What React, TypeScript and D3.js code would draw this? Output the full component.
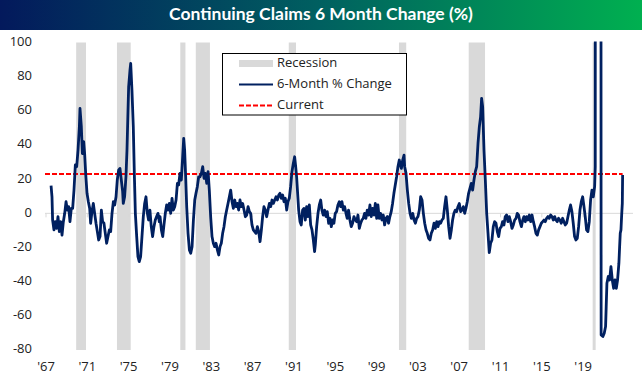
import * as d3 from 'd3'
import { useEffect, useRef } from 'react'

// 6-month % change in continuing claims, [decimal year, value]
const claims1967 = [
  [1967.49, 16.2], [1967.58, 9.7], [1967.64, -3.9], [1967.77, -9.7], [1967.9, -4.9], [1968.03, -8.8],
  [1968.16, -1.9], [1968.29, -10.7], [1968.42, -4.9], [1968.55, -12.7], [1968.68, -4.9], [1968.81, 0],
  [1968.94, 6.8], [1969.07, 1.9], [1969.19, 3.9], [1969.32, -4.9], [1969.45, 2.9], [1969.58, 2.9],
  [1969.71, 13.6], [1969.84, 28.3], [1969.97, 27.3], [1970.1, 37], [1970.23, 50.7], [1970.29, 61.4],
  [1970.42, 50.7], [1970.52, 35], [1970.65, 41.9], [1970.74, 35], [1970.84, 23.4], [1970.97, 11.7],
  [1971.1, 6.8], [1971.23, 2.9], [1971.32, -5.8], [1971.45, 1], [1971.58, 5.8], [1971.71, 0],
  [1971.84, -5.8], [1971.97, -10.7], [1972.1, -15.6], [1972.23, -13.6], [1972.36, 1.9], [1972.48, -4.9],
  [1972.61, -5.8], [1972.74, -11.7], [1972.87, -17.5], [1973.0, -13.6], [1973.13, -9.7], [1973.26, -10.7],
  [1973.39, 0], [1973.52, 6.8], [1973.65, 4.9], [1973.78, 9.7], [1973.9, 19.5], [1974.03, 25.3],
  [1974.16, 26.3], [1974.29, 19.5], [1974.42, 12.7], [1974.48, 5.8], [1974.61, 9.7], [1974.74, 21.4],
  [1974.84, 37], [1974.94, 60.4], [1975.0, 74], [1975.13, 83.8], [1975.2, 87.7], [1975.32, 72.1],
  [1975.45, 50.7], [1975.55, 23.4], [1975.65, 0], [1975.78, -13.6], [1975.9, -25.3], [1976.03, -28.3],
  [1976.16, -25.3], [1976.29, -13.6], [1976.42, -1.9], [1976.55, 5.8], [1976.68, 9.7], [1976.81, 0],
  [1976.93, -3.9], [1977.06, 1.9], [1977.19, -7.8], [1977.32, -13.6], [1977.45, -7.8], [1977.58, -3.9],
  [1977.71, -1.9], [1977.84, 0], [1977.97, -4.9]
]

const claims1978 = [
  [1978.04, -2], [1978.17, -9.7], [1978.3, -13.6], [1978.42, -6.8], [1978.55, 0], [1978.68, 4.9],
  [1978.81, 1.9], [1978.94, 5.8], [1979.07, 0], [1979.2, 8.8], [1979.33, 1.9], [1979.46, 3.9],
  [1979.59, 7.8], [1979.72, 17.5], [1979.84, 16.6], [1979.97, 23.4], [1980.1, 19.5], [1980.23, 33.1],
  [1980.33, 43.9], [1980.42, 37], [1980.52, 21.4], [1980.62, 3.9], [1980.75, -11.7], [1980.88, -21.4],
  [1981.01, -23.4], [1981.14, -19.5], [1981.27, -3.9], [1981.4, 7.8], [1981.52, 11.7], [1981.65, 15.6],
  [1981.78, 21.4], [1981.91, 21.4], [1982.04, 23.4], [1982.17, 27.3], [1982.3, 20.5], [1982.43, 23.4],
  [1982.56, 17.5], [1982.69, 24.4], [1982.81, 13.6], [1982.94, -2], [1983.07, -13.6], [1983.2, -17.5],
  [1983.33, -19.5], [1983.46, -17.5], [1983.59, -21.4], [1983.72, -24.4], [1983.85, -19.5], [1983.97, -17.5],
  [1984.1, -11.7], [1984.23, -7.8], [1984.36, -2], [1984.49, 1.9], [1984.62, 5.8], [1984.75, 9.7],
  [1984.88, 13.6], [1985.01, 6.8], [1985.14, 2.9], [1985.27, 7.8], [1985.4, 3.9], [1985.52, 5.8],
  [1985.65, 1.9], [1985.78, 7.8], [1985.91, 3.9], [1986.04, 5.8], [1986.17, 1.9], [1986.3, -2],
  [1986.43, -1], [1986.56, 3.9], [1986.69, 1], [1986.81, 0], [1986.94, -6.8], [1987.07, -9.7],
  [1987.2, -10.7], [1987.33, -11.7], [1987.46, -7.8], [1987.59, -10.7], [1987.72, -16.6], [1987.85, -9.7],
  [1987.97, -2], [1988.1, 3.9], [1988.23, 1.9], [1988.36, -2], [1988.49, 1.9], [1988.62, 5.8],
  [1988.75, 3.9], [1988.88, 7.8], [1989.01, 5.8], [1989.14, 7.8], [1989.27, 9.7], [1989.4, 7.8],
  [1989.53, 10.7]
]

const claims1989 = [
  [1989.65, 11.7], [1989.78, 8.8], [1989.91, 10.7], [1990.04, 6.8], [1990.17, 8.8], [1990.3, 1.9],
  [1990.42, 6.8], [1990.55, 8.8], [1990.68, 15.6], [1990.81, 24.4], [1990.94, 29.2], [1991.07, 33.1],
  [1991.17, 27.3], [1991.26, 21.4], [1991.36, 11.7], [1991.46, 1.9], [1991.59, -4.9], [1991.71, -6.8],
  [1991.84, 1.9], [1991.97, 2.9], [1992.1, -3.9], [1992.23, 3.9], [1992.36, -1.9], [1992.49, 4.9],
  [1992.62, -6.8], [1992.75, -9.7], [1992.88, -15.6], [1993.0, -22.4], [1993.07, -18.5], [1993.2, -7.8],
  [1993.33, 0], [1993.46, 4.9], [1993.59, 7.8], [1993.71, 1.9], [1993.84, -1], [1993.97, 1.9],
  [1994.1, -1.9], [1994.23, 1], [1994.36, -5.8], [1994.49, -2.9], [1994.62, -7.8], [1994.74, -3.9],
  [1994.87, -5.8], [1995.0, 0], [1995.13, 1], [1995.26, 4.9], [1995.39, 6.8], [1995.52, 3.9],
  [1995.65, 6.8], [1995.78, 1.9], [1995.91, 3.9], [1996.04, 0], [1996.16, -2.9], [1996.29, 1.9],
  [1996.42, -3.9], [1996.55, -7.8], [1996.68, -5.8], [1996.81, -1.9], [1996.94, -3.9], [1997.07, -4.9],
  [1997.2, -1], [1997.33, -8.8], [1997.46, -5.8], [1997.58, -3.9], [1997.71, -2.9], [1997.84, 0],
  [1997.97, -2.9], [1998.1, 1.9], [1998.23, -1], [1998.36, 4.9], [1998.49, -1.9], [1998.62, 2.9],
  [1998.75, -1], [1998.88, 5.8], [1999.01, -2.9], [1999.13, 4.9], [1999.26, -2.9], [1999.39, 0],
  [1999.52, -3.9], [1999.65, -1], [1999.78, -6.8], [1999.91, -2.9], [2000.04, -1.9], [2000.16, -5.8],
  [2000.29, -1.9], [2000.42, 1], [2000.55, 5.8], [2000.68, 11.7], [2000.81, 16.6], [2000.94, 21.4],
  [2001.07, 27.3], [2001.2, 31.2]
]

const claims2001 = [
  [2001.27, 29.2], [2001.4, 26.3], [2001.53, 31.2], [2001.66, 34.1], [2001.72, 27.3], [2001.85, 23.4],
  [2001.98, 13.6], [2002.11, 5.8], [2002.24, 0], [2002.37, -2.9], [2002.5, 0], [2002.63, -3.9],
  [2002.76, -5.8], [2002.88, -2.9], [2003.01, -1.9], [2003.14, 1.9], [2003.27, 9.7], [2003.4, 7.8],
  [2003.53, 0], [2003.66, -5.8], [2003.79, -9.7], [2003.91, -11.7], [2004.04, -14.6], [2004.17, -15.6],
  [2004.3, -11.7], [2004.43, -9.7], [2004.56, -5.8], [2004.69, -8.8], [2004.82, -4.9], [2004.95, -7.8],
  [2005.08, -4.9], [2005.2, -5.8], [2005.33, -3.9], [2005.46, -2.9], [2005.59, 3.9], [2005.72, 9.7],
  [2005.85, 1.9], [2005.98, -7.8], [2006.11, -14.6], [2006.24, -9.7], [2006.36, -3.9], [2006.49, 0],
  [2006.62, 1.9], [2006.75, 1], [2006.88, 3.9], [2007.01, 5.8], [2007.14, 1], [2007.27, 1.9],
  [2007.4, 3.9], [2007.53, 0], [2007.65, 2.9], [2007.78, 6.8], [2007.91, 11.7], [2008.04, 14.6],
  [2008.17, 17.5], [2008.3, 13.6], [2008.43, 19.5], [2008.56, 24.4], [2008.69, 27.3], [2008.82, 40.9],
  [2008.95, 50.7], [2009.07, 56.5], [2009.17, 67.3], [2009.27, 62.4], [2009.4, 37], [2009.53, 19.5],
  [2009.66, 0], [2009.79, -11.7], [2009.91, -23], [2010.04, -17.5], [2010.17, -15.6], [2010.3, -7.8],
  [2010.43, -4.9], [2010.56, -5.8], [2010.69, -10.7], [2010.82, -13.6], [2010.95, -8.8], [2011.08, -7.8],
  [2011.2, -4.9], [2011.33, -6.8], [2011.46, -1.9], [2011.59, -1], [2011.72, -4.9], [2011.85, -1.9],
  [2011.98, -4.9], [2012.11, -8.8], [2012.24, -6.8], [2012.37, -3.9], [2012.5, -2.9], [2012.62, 0],
  [2012.75, -1], [2012.88, -4.9]
]

const claims2013 = [
  [2013.02, -7.8], [2013.15, -3.9], [2013.27, -1.9], [2013.4, -4.9], [2013.53, -1.9], [2013.66, -3.9],
  [2013.79, -1], [2013.92, -4.9], [2014.05, -1], [2014.18, -4.9], [2014.3, -7.8], [2014.43, -11.7],
  [2014.56, -12.7], [2014.69, -9.7], [2014.82, -7.8], [2014.95, -5.8], [2015.08, -4.9], [2015.21, -3.9],
  [2015.33, -4.9], [2015.46, -2.9], [2015.59, -1.9], [2015.72, -2.9], [2015.85, -1], [2015.98, -1.9],
  [2016.11, -3.9], [2016.24, -1.9], [2016.36, -3.9], [2016.49, -4.9], [2016.62, -2.9], [2016.75, -3.9],
  [2016.88, -5.8], [2017.01, -2.9], [2017.14, -4.9], [2017.27, -6.8], [2017.4, -5.8], [2017.53, -1.9],
  [2017.66, 1.9], [2017.78, 4.9], [2017.91, 1], [2018.04, -5.8], [2018.17, -13.6], [2018.3, -15.6],
  [2018.43, -14.6], [2018.56, -7.8], [2018.69, 1.9], [2018.82, 6.8], [2018.95, 9.7], [2019.08, 3.9],
  [2019.2, -1.9], [2019.33, -9.7], [2019.46, -10.7], [2019.59, -4.9], [2019.72, 7.8], [2019.85, 13.6],
  [2019.98, 9.7], [2020.11, 15.6], [2020.17, 27.3], [2020.22, 1200], [2020.66, 1100], [2020.74, -71.2],
  [2020.91, -72.1], [2021.04, -70.2], [2021.17, -66.3], [2021.23, -54.6], [2021.3, -40.9], [2021.43, -37],
  [2021.56, -39], [2021.69, -31.2], [2021.82, -39], [2021.95, -43.9], [2022.08, -39], [2022.21, -43.9],
  [2022.33, -39], [2022.46, -29.2], [2022.53, -19.5], [2022.59, -11.7], [2022.66, -9.7], [2022.72, -1.9],
  [2022.79, 5.8], [2022.82, 22.5]
]

// NBER recessions [start, end] in decimal years
const recessions = [
  [1969.92, 1970.87], [1973.87, 1975.2], [1980.0, 1980.5], [1981.5, 1982.87],
  [1990.5, 1991.2], [2001.17, 2001.87], [2007.92, 2009.5], [2019.92, 2020.21]
]

const currentValue = 23
const yTicks = [100, 80, 60, 40, 20, 0, -20, -40, -60, -80]
const xTickYears = [1967, 1971, 1975, 1979, 1983, 1987, 1991, 1995, 1999, 2003, 2007, 2011, 2015, 2019]
const legendItems = ['Recession', '6-Month % Change', 'Current']
const title = 'Continuing Claims 6 Month Change (%)'

export default function App() {
  const ref = useRef<SVGSVGElement>(null)

  useEffect(() => {
    const W = 642
    const H = 390
    const left = 46
    const right = 633
    const top = 42.5
    const bottom = 350
    const font = "'Open Sans', 'DejaVu Sans', sans-serif"

    const svg = d3.select(ref.current)
    svg.selectAll('*').remove()
    svg.attr('width', W).attr('height', H)

    const x = d3.scaleLinear().domain([1967, 1967 + (right - left) / 10.33]).range([left, right])
    const y = d3.scaleLinear().domain([-80, 100]).range([bottom, top])

    const defs = svg.append('defs')
    const grad = defs.append('linearGradient').attr('id', 'titleGrad')
    grad.append('stop').attr('offset', '0%').attr('stop-color', '#03195c')
    grad.append('stop').attr('offset', '50%').attr('stop-color', '#006060')
    grad.append('stop').attr('offset', '100%').attr('stop-color', '#00b050')
    defs
      .append('clipPath')
      .attr('id', 'plotClip')
      .append('rect')
      .attr('x', left - 5)
      .attr('y', top - 1)
      .attr('width', right - left + 10)
      .attr('height', bottom - top + 1)

    // title bar
    svg.append('rect').attr('x', 0).attr('y', 0).attr('width', W).attr('height', 30).attr('fill', 'url(#titleGrad)')
    svg
      .append('text')
      .attr('x', W / 2)
      .attr('y', 15.5)
      .attr('text-anchor', 'middle')
      .attr('dominant-baseline', 'middle')
      .attr('fill', '#fff')
      .style('font-family', "Lato, 'Open Sans', sans-serif")
      .style('font-weight', 700)
      .style('font-size', '17.5px')
      .text(title)

    // recession shading
    svg
      .append('g')
      .selectAll('rect')
      .data(recessions)
      .enter()
      .append('rect')
      .attr('x', (d) => x(d[0]))
      .attr('width', (d) => x(d[1]) - x(d[0]))
      .attr('y', top)
      .attr('height', bottom - top)
      .attr('fill', '#d9d9d9')

    // zero axis line + ticks
    svg
      .append('line')
      .attr('x1', left - 1)
      .attr('x2', right)
      .attr('y1', y(0))
      .attr('y2', y(0))
      .attr('stroke', '#d9d9d9')
      .attr('stroke-width', 1)
    svg
      .append('g')
      .selectAll('line')
      .data(xTickYears)
      .enter()
      .append('line')
      .attr('x1', (d) => x(d))
      .attr('x2', (d) => x(d))
      .attr('y1', y(0))
      .attr('y2', y(0) + 4)
      .attr('stroke', '#d9d9d9')

    // y labels
    svg
      .append('g')
      .selectAll('text')
      .data(yTicks)
      .enter()
      .append('text')
      .attr('x', 32)
      .attr('y', (d) => y(d))
      .attr('text-anchor', 'end')
      .attr('dominant-baseline', 'middle')
      .style('font-family', font)
      .style('font-size', '13px')
      .attr('fill', '#222')
      .text((d) => d)

    // x labels
    svg
      .append('g')
      .selectAll('text')
      .data(xTickYears)
      .enter()
      .append('text')
      .attr('x', (d) => x(d))
      .attr('y', 368)
      .attr('text-anchor', 'middle')
      .attr('dominant-baseline', 'middle')
      .style('font-family', font)
      .style('font-size', '13px')
      .attr('fill', '#222')
      .text((d) => "'" + String(d).slice(2))

    // current level
    svg
      .append('line')
      .attr('x1', left - 1)
      .attr('x2', x(claims2013[claims2013.length - 1][0]))
      .attr('y1', y(currentValue))
      .attr('y2', y(currentValue))
      .attr('stroke', '#ff0000')
      .attr('stroke-width', 2)
      .attr('stroke-dasharray', '5 2')

    // series
    const series = [...claims1967, ...claims1978, ...claims1989, ...claims2001, ...claims2013]
    const line = d3
      .line<number[]>()
      .x((d) => x(d[0]))
      .y((d) => y(d[1]))
    svg
      .append('path')
      .datum(series)
      .attr('clip-path', 'url(#plotClip)')
      .attr('fill', 'none')
      .attr('stroke', '#002060')
      .attr('stroke-width', 2.8)
      .attr('stroke-linejoin', 'round')
      .attr('d', line)

    // legend
    const lg = svg.append('g')
    lg.append('rect')
      .attr('x', 222.5)
      .attr('y', 53.5)
      .attr('width', 184)
      .attr('height', 61.5)
      .attr('fill', '#fff')
      .attr('stroke', '#000')
      .attr('stroke-width', 1)
    legendItems.forEach((name, i) => {
      const cy = 63.5 + i * 21
      if (i === 0) {
        lg.append('rect').attr('x', 239).attr('y', cy - 3.5).attr('width', 34).attr('height', 7).attr('fill', '#d9d9d9')
      } else {
        lg.append('line')
          .attr('x1', 239)
          .attr('x2', 273)
          .attr('y1', cy)
          .attr('y2', cy)
          .attr('stroke', i === 1 ? '#002060' : '#ff0000')
          .attr('stroke-width', 2)
          .attr('stroke-dasharray', i === 2 ? '5 2' : null)
      }
      lg.append('text')
        .attr('x', 277)
        .attr('y', cy)
        .attr('dominant-baseline', 'middle')
        .style('font-family', font)
        .style('font-size', '13px')
        .attr('fill', '#222')
        .text(name)
    })
  }, [])

  return <svg ref={ref} style={{ position: 'absolute', left: 0, top: 0 }}></svg>
}
